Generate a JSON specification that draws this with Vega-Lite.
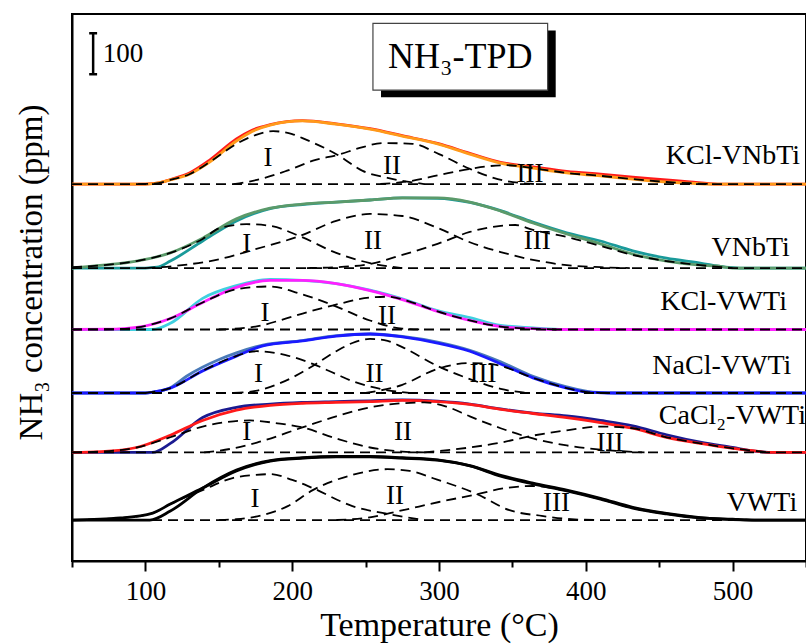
{
"$schema": "https://vega.github.io/schema/vega-lite/v6.json",
"width": 734, "height": 547,
"autosize": {"type": "none"},
"padding": {"left": 72, "top": 14, "right": 0, "bottom": 83},
"background": "white",
"config": {"font": "Liberation Serif", "view": {"stroke": "black", "strokeWidth": 2}},
"datasets": {
"exp": [
{"s":"KCl-VNbTi","t":50,"v":920},{"s":"KCl-VNbTi","t":100,"v":920},{"s":"KCl-VNbTi","t":108,"v":922},{"s":"KCl-VNbTi","t":117,"v":931},{"s":"KCl-VNbTi","t":130,"v":947},{"s":"KCl-VNbTi","t":144,"v":979},{"s":"KCl-VNbTi","t":162,"v":1030},{"s":"KCl-VNbTi","t":173,"v":1052},{"s":"KCl-VNbTi","t":185,"v":1065},{"s":"KCl-VNbTi","t":207,"v":1075},{"s":"KCl-VNbTi","t":230,"v":1067},{"s":"KCl-VNbTi","t":253,"v":1055},{"s":"KCl-VNbTi","t":275,"v":1038},{"s":"KCl-VNbTi","t":299,"v":1019},{"s":"KCl-VNbTi","t":321,"v":995},{"s":"KCl-VNbTi","t":342,"v":973},{"s":"KCl-VNbTi","t":364,"v":962},{"s":"KCl-VNbTi","t":387,"v":951},{"s":"KCl-VNbTi","t":410,"v":944},{"s":"KCl-VNbTi","t":432,"v":937},{"s":"KCl-VNbTi","t":455,"v":930},{"s":"KCl-VNbTi","t":471,"v":925},{"s":"KCl-VNbTi","t":490,"v":920},{"s":"KCl-VNbTi","t":550,"v":920},
{"s":"VNbTi","t":50,"v":715},{"s":"VNbTi","t":100,"v":715},{"s":"VNbTi","t":108,"v":717},{"s":"VNbTi","t":117,"v":732},{"s":"VNbTi","t":139,"v":781},{"s":"VNbTi","t":162,"v":830},{"s":"VNbTi","t":185,"v":860},{"s":"VNbTi","t":207,"v":870},{"s":"VNbTi","t":230,"v":876},{"s":"VNbTi","t":253,"v":881},{"s":"VNbTi","t":275,"v":886},{"s":"VNbTi","t":299,"v":885},{"s":"VNbTi","t":321,"v":875},{"s":"VNbTi","t":342,"v":855},{"s":"VNbTi","t":364,"v":827},{"s":"VNbTi","t":387,"v":801},{"s":"VNbTi","t":410,"v":781},{"s":"VNbTi","t":432,"v":757},{"s":"VNbTi","t":455,"v":739},{"s":"VNbTi","t":478,"v":727},{"s":"VNbTi","t":495,"v":717},{"s":"VNbTi","t":505,"v":715},{"s":"VNbTi","t":550,"v":715},
{"s":"KCl-VWTi","t":50,"v":565},{"s":"KCl-VWTi","t":105,"v":565},{"s":"KCl-VWTi","t":117,"v":580},{"s":"KCl-VWTi","t":139,"v":641},{"s":"KCl-VWTi","t":162,"v":672},{"s":"KCl-VWTi","t":185,"v":687},{"s":"KCl-VWTi","t":207,"v":685},{"s":"KCl-VWTi","t":230,"v":677},{"s":"KCl-VWTi","t":253,"v":661},{"s":"KCl-VWTi","t":275,"v":640},{"s":"KCl-VWTi","t":299,"v":611},{"s":"KCl-VWTi","t":321,"v":594},{"s":"KCl-VWTi","t":342,"v":575},{"s":"KCl-VWTi","t":364,"v":569},{"s":"KCl-VWTi","t":385,"v":565},{"s":"KCl-VWTi","t":550,"v":565},
{"s":"NaCl-VWTi","t":50,"v":410},{"s":"NaCl-VWTi","t":100,"v":410},{"s":"NaCl-VWTi","t":105,"v":412},{"s":"NaCl-VWTi","t":117,"v":423},{"s":"NaCl-VWTi","t":128,"v":451},{"s":"NaCl-VWTi","t":151,"v":493},{"s":"NaCl-VWTi","t":162,"v":508},{"s":"NaCl-VWTi","t":180,"v":527},{"s":"NaCl-VWTi","t":207,"v":538},{"s":"NaCl-VWTi","t":230,"v":550},{"s":"NaCl-VWTi","t":253,"v":554},{"s":"NaCl-VWTi","t":275,"v":548},{"s":"NaCl-VWTi","t":299,"v":534},{"s":"NaCl-VWTi","t":321,"v":514},{"s":"NaCl-VWTi","t":342,"v":486},{"s":"NaCl-VWTi","t":364,"v":451},{"s":"NaCl-VWTi","t":387,"v":425},{"s":"NaCl-VWTi","t":405,"v":412},{"s":"NaCl-VWTi","t":420,"v":410},{"s":"NaCl-VWTi","t":550,"v":410},
{"s":"CaCl2-VWTi","t":50,"v":265},{"s":"CaCl2-VWTi","t":105,"v":265},{"s":"CaCl2-VWTi","t":117,"v":287},{"s":"CaCl2-VWTi","t":139,"v":350},{"s":"CaCl2-VWTi","t":162,"v":375},{"s":"CaCl2-VWTi","t":185,"v":383},{"s":"CaCl2-VWTi","t":207,"v":387},{"s":"CaCl2-VWTi","t":230,"v":389},{"s":"CaCl2-VWTi","t":253,"v":391},{"s":"CaCl2-VWTi","t":275,"v":393},{"s":"CaCl2-VWTi","t":299,"v":390},{"s":"CaCl2-VWTi","t":321,"v":383},{"s":"CaCl2-VWTi","t":342,"v":371},{"s":"CaCl2-VWTi","t":364,"v":361},{"s":"CaCl2-VWTi","t":387,"v":354},{"s":"CaCl2-VWTi","t":410,"v":343},{"s":"CaCl2-VWTi","t":432,"v":330},{"s":"CaCl2-VWTi","t":455,"v":308},{"s":"CaCl2-VWTi","t":478,"v":290},{"s":"CaCl2-VWTi","t":500,"v":277},{"s":"CaCl2-VWTi","t":515,"v":268},{"s":"CaCl2-VWTi","t":528,"v":265},{"s":"CaCl2-VWTi","t":550,"v":265},
{"s":"VWTi","t":50,"v":100},{"s":"VWTi","t":103,"v":100},{"s":"VWTi","t":117,"v":122},{"s":"VWTi","t":139,"v":178},{"s":"VWTi","t":162,"v":222},{"s":"VWTi","t":185,"v":245},{"s":"VWTi","t":207,"v":252},{"s":"VWTi","t":230,"v":255},{"s":"VWTi","t":253,"v":255},{"s":"VWTi","t":275,"v":252},{"s":"VWTi","t":299,"v":247},{"s":"VWTi","t":321,"v":233},{"s":"VWTi","t":342,"v":209},{"s":"VWTi","t":364,"v":190},{"s":"VWTi","t":387,"v":173},{"s":"VWTi","t":410,"v":153},{"s":"VWTi","t":432,"v":131},{"s":"VWTi","t":455,"v":116},{"s":"VWTi","t":478,"v":106},{"s":"VWTi","t":500,"v":101},{"s":"VWTi","t":515,"v":100},{"s":"VWTi","t":550,"v":100}
],
"fit": [
{"s":"KCl-VNbTi","t":50,"v":920},{"s":"KCl-VNbTi","t":100,"v":920},{"s":"KCl-VNbTi","t":106,"v":921},{"s":"KCl-VNbTi","t":117,"v":930},{"s":"KCl-VNbTi","t":130,"v":944},{"s":"KCl-VNbTi","t":144,"v":974},{"s":"KCl-VNbTi","t":162,"v":1025},{"s":"KCl-VNbTi","t":173,"v":1049},{"s":"KCl-VNbTi","t":185,"v":1064},{"s":"KCl-VNbTi","t":207,"v":1074},{"s":"KCl-VNbTi","t":230,"v":1066},{"s":"KCl-VNbTi","t":253,"v":1054},{"s":"KCl-VNbTi","t":275,"v":1037},{"s":"KCl-VNbTi","t":299,"v":1018},{"s":"KCl-VNbTi","t":321,"v":993},{"s":"KCl-VNbTi","t":342,"v":971},{"s":"KCl-VNbTi","t":364,"v":959},{"s":"KCl-VNbTi","t":387,"v":947},{"s":"KCl-VNbTi","t":410,"v":940},{"s":"KCl-VNbTi","t":432,"v":932},{"s":"KCl-VNbTi","t":455,"v":925},{"s":"KCl-VNbTi","t":471,"v":922},{"s":"KCl-VNbTi","t":485,"v":920},{"s":"KCl-VNbTi","t":550,"v":920},
{"s":"VNbTi","t":50,"v":715},{"s":"VNbTi","t":71,"v":722},{"s":"VNbTi","t":94,"v":732},{"s":"VNbTi","t":117,"v":752},{"s":"VNbTi","t":139,"v":788},{"s":"VNbTi","t":162,"v":835},{"s":"VNbTi","t":185,"v":861},{"s":"VNbTi","t":207,"v":871},{"s":"VNbTi","t":230,"v":876},{"s":"VNbTi","t":253,"v":881},{"s":"VNbTi","t":275,"v":886},{"s":"VNbTi","t":299,"v":886},{"s":"VNbTi","t":321,"v":876},{"s":"VNbTi","t":342,"v":854},{"s":"VNbTi","t":364,"v":825},{"s":"VNbTi","t":387,"v":798},{"s":"VNbTi","t":410,"v":774},{"s":"VNbTi","t":432,"v":749},{"s":"VNbTi","t":455,"v":732},{"s":"VNbTi","t":478,"v":722},{"s":"VNbTi","t":489,"v":720},{"s":"VNbTi","t":500,"v":715},{"s":"VNbTi","t":550,"v":715},
{"s":"KCl-VWTi","t":50,"v":565},{"s":"KCl-VWTi","t":80,"v":566},{"s":"KCl-VWTi","t":94,"v":570},{"s":"KCl-VWTi","t":117,"v":592},{"s":"KCl-VWTi","t":139,"v":631},{"s":"KCl-VWTi","t":162,"v":668},{"s":"KCl-VWTi","t":185,"v":685},{"s":"KCl-VWTi","t":207,"v":685},{"s":"KCl-VWTi","t":230,"v":677},{"s":"KCl-VWTi","t":253,"v":660},{"s":"KCl-VWTi","t":275,"v":638},{"s":"KCl-VWTi","t":299,"v":609},{"s":"KCl-VWTi","t":321,"v":587},{"s":"KCl-VWTi","t":342,"v":572},{"s":"KCl-VWTi","t":364,"v":567},{"s":"KCl-VWTi","t":380,"v":565},{"s":"KCl-VWTi","t":550,"v":565},
{"s":"NaCl-VWTi","t":50,"v":410},{"s":"NaCl-VWTi","t":100,"v":410},{"s":"NaCl-VWTi","t":105,"v":412},{"s":"NaCl-VWTi","t":117,"v":422},{"s":"NaCl-VWTi","t":139,"v":464},{"s":"NaCl-VWTi","t":162,"v":500},{"s":"NaCl-VWTi","t":180,"v":525},{"s":"NaCl-VWTi","t":207,"v":537},{"s":"NaCl-VWTi","t":230,"v":549},{"s":"NaCl-VWTi","t":253,"v":554},{"s":"NaCl-VWTi","t":275,"v":547},{"s":"NaCl-VWTi","t":299,"v":532},{"s":"NaCl-VWTi","t":321,"v":512},{"s":"NaCl-VWTi","t":342,"v":481},{"s":"NaCl-VWTi","t":364,"v":447},{"s":"NaCl-VWTi","t":387,"v":422},{"s":"NaCl-VWTi","t":401,"v":412},{"s":"NaCl-VWTi","t":415,"v":410},{"s":"NaCl-VWTi","t":550,"v":410},
{"s":"CaCl2-VWTi","t":50,"v":265},{"s":"CaCl2-VWTi","t":70,"v":267},{"s":"CaCl2-VWTi","t":94,"v":277},{"s":"CaCl2-VWTi","t":117,"v":307},{"s":"CaCl2-VWTi","t":139,"v":343},{"s":"CaCl2-VWTi","t":162,"v":368},{"s":"CaCl2-VWTi","t":185,"v":380},{"s":"CaCl2-VWTi","t":207,"v":385},{"s":"CaCl2-VWTi","t":230,"v":387},{"s":"CaCl2-VWTi","t":253,"v":389},{"s":"CaCl2-VWTi","t":275,"v":392},{"s":"CaCl2-VWTi","t":299,"v":389},{"s":"CaCl2-VWTi","t":321,"v":382},{"s":"CaCl2-VWTi","t":342,"v":370},{"s":"CaCl2-VWTi","t":364,"v":360},{"s":"CaCl2-VWTi","t":387,"v":350},{"s":"CaCl2-VWTi","t":410,"v":338},{"s":"CaCl2-VWTi","t":432,"v":324},{"s":"CaCl2-VWTi","t":455,"v":302},{"s":"CaCl2-VWTi","t":478,"v":287},{"s":"CaCl2-VWTi","t":500,"v":275},{"s":"CaCl2-VWTi","t":512,"v":270},{"s":"CaCl2-VWTi","t":525,"v":265},{"s":"CaCl2-VWTi","t":550,"v":265},
{"s":"VWTi","t":50,"v":100},{"s":"VWTi","t":83,"v":105},{"s":"VWTi","t":105,"v":117},{"s":"VWTi","t":117,"v":139},{"s":"VWTi","t":139,"v":178},{"s":"VWTi","t":162,"v":220},{"s":"VWTi","t":185,"v":244},{"s":"VWTi","t":207,"v":251},{"s":"VWTi","t":230,"v":254},{"s":"VWTi","t":253,"v":254},{"s":"VWTi","t":275,"v":251},{"s":"VWTi","t":299,"v":246},{"s":"VWTi","t":321,"v":232},{"s":"VWTi","t":342,"v":207},{"s":"VWTi","t":364,"v":188},{"s":"VWTi","t":387,"v":171},{"s":"VWTi","t":410,"v":151},{"s":"VWTi","t":432,"v":129},{"s":"VWTi","t":455,"v":115},{"s":"VWTi","t":478,"v":105},{"s":"VWTi","t":500,"v":102},{"s":"VWTi","t":515,"v":100},{"s":"VWTi","t":550,"v":100}
],
"comps": [
{"c":"A0","t":50,"v":920},{"c":"A0","t":550,"v":920},
{"c":"A1","t":95,"v":920},{"c":"A1","t":106,"v":921},{"c":"A1","t":117,"v":930},{"c":"A1","t":130,"v":944},{"c":"A1","t":144,"v":974},{"c":"A1","t":162,"v":1018},{"c":"A1","t":173,"v":1037},{"c":"A1","t":187,"v":1049},{"c":"A1","t":200,"v":1042},{"c":"A1","t":207,"v":1032},{"c":"A1","t":231,"v":991},{"c":"A1","t":248,"v":952},{"c":"A1","t":265,"v":935},{"c":"A1","t":290,"v":920},
{"c":"A2","t":160,"v":920},{"c":"A2","t":176,"v":930},{"c":"A2","t":196,"v":952},{"c":"A2","t":216,"v":979},{"c":"A2","t":231,"v":991},{"c":"A2","t":246,"v":1008},{"c":"A2","t":262,"v":1020},{"c":"A2","t":282,"v":1018},{"c":"A2","t":300,"v":993},{"c":"A2","t":321,"v":957},{"c":"A2","t":340,"v":932},{"c":"A2","t":365,"v":920},
{"c":"A3","t":260,"v":920},{"c":"A3","t":280,"v":927},{"c":"A3","t":300,"v":942},{"c":"A3","t":321,"v":957},{"c":"A3","t":345,"v":966},{"c":"A3","t":364,"v":959},{"c":"A3","t":387,"v":947},{"c":"A3","t":410,"v":940},{"c":"A3","t":432,"v":932},{"c":"A3","t":455,"v":925},{"c":"A3","t":471,"v":922},{"c":"A3","t":485,"v":920},
{"c":"B0","t":50,"v":715},{"c":"B0","t":550,"v":715},
{"c":"B1","t":50,"v":717},{"c":"B1","t":71,"v":722},{"c":"B1","t":94,"v":732},{"c":"B1","t":117,"v":752},{"c":"B1","t":139,"v":786},{"c":"B1","t":151,"v":813},{"c":"B1","t":169,"v":822},{"c":"B1","t":185,"v":818},{"c":"B1","t":205,"v":793},{"c":"B1","t":230,"v":752},{"c":"B1","t":253,"v":727},{"c":"B1","t":275,"v":715},
{"c":"B2","t":100,"v":715},{"c":"B2","t":125,"v":722},{"c":"B2","t":151,"v":737},{"c":"B2","t":175,"v":761},{"c":"B2","t":205,"v":793},{"c":"B2","t":230,"v":830},{"c":"B2","t":253,"v":847},{"c":"B2","t":275,"v":842},{"c":"B2","t":299,"v":813},{"c":"B2","t":321,"v":778},{"c":"B2","t":342,"v":754},{"c":"B2","t":364,"v":735},{"c":"B2","t":387,"v":722},{"c":"B2","t":410,"v":717},{"c":"B2","t":430,"v":715},
{"c":"B3","t":210,"v":715},{"c":"B3","t":230,"v":717},{"c":"B3","t":253,"v":725},{"c":"B3","t":275,"v":747},{"c":"B3","t":299,"v":774},{"c":"B3","t":321,"v":803},{"c":"B3","t":342,"v":818},{"c":"B3","t":352,"v":820},{"c":"B3","t":364,"v":808},{"c":"B3","t":387,"v":791},{"c":"B3","t":410,"v":769},{"c":"B3","t":432,"v":747},{"c":"B3","t":455,"v":732},{"c":"B3","t":478,"v":722},{"c":"B3","t":500,"v":715},
{"c":"C0","t":50,"v":565},{"c":"C0","t":550,"v":565},
{"c":"C1","t":50,"v":565},{"c":"C1","t":80,"v":566},{"c":"C1","t":94,"v":570},{"c":"C1","t":117,"v":592},{"c":"C1","t":139,"v":631},{"c":"C1","t":162,"v":663},{"c":"C1","t":185,"v":670},{"c":"C1","t":205,"v":653},{"c":"C1","t":228,"v":624},{"c":"C1","t":253,"v":587},{"c":"C1","t":275,"v":567},{"c":"C1","t":290,"v":565},
{"c":"C2","t":150,"v":565},{"c":"C2","t":175,"v":572},{"c":"C2","t":196,"v":592},{"c":"C2","t":210,"v":607},{"c":"C2","t":228,"v":624},{"c":"C2","t":253,"v":643},{"c":"C2","t":265,"v":645},{"c":"C2","t":280,"v":633},{"c":"C2","t":299,"v":609},{"c":"C2","t":321,"v":587},{"c":"C2","t":342,"v":572},{"c":"C2","t":364,"v":567},{"c":"C2","t":380,"v":565},
{"c":"D0","t":50,"v":410},{"c":"D0","t":550,"v":410},
{"c":"D1","t":100,"v":410},{"c":"D1","t":117,"v":422},{"c":"D1","t":139,"v":464},{"c":"D1","t":160,"v":498},{"c":"D1","t":176,"v":512},{"c":"D1","t":195,"v":503},{"c":"D1","t":214,"v":481},{"c":"D1","t":230,"v":456},{"c":"D1","t":241,"v":439},{"c":"D1","t":260,"v":420},{"c":"D1","t":280,"v":410},
{"c":"D2","t":160,"v":410},{"c":"D2","t":175,"v":415},{"c":"D2","t":195,"v":439},{"c":"D2","t":214,"v":476},{"c":"D2","t":230,"v":512},{"c":"D2","t":241,"v":532},{"c":"D2","t":253,"v":542},{"c":"D2","t":265,"v":537},{"c":"D2","t":275,"v":522},{"c":"D2","t":299,"v":476},{"c":"D2","t":321,"v":444},{"c":"D2","t":342,"v":420},{"c":"D2","t":360,"v":410},
{"c":"D3","t":250,"v":410},{"c":"D3","t":275,"v":430},{"c":"D3","t":299,"v":469},{"c":"D3","t":321,"v":483},{"c":"D3","t":335,"v":481},{"c":"D3","t":342,"v":476},{"c":"D3","t":364,"v":447},{"c":"D3","t":387,"v":422},{"c":"D3","t":401,"v":412},{"c":"D3","t":415,"v":410},
{"c":"E0","t":50,"v":265},{"c":"E0","t":550,"v":265},
{"c":"E1","t":50,"v":265},{"c":"E1","t":70,"v":267},{"c":"E1","t":94,"v":277},{"c":"E1","t":117,"v":302},{"c":"E1","t":139,"v":328},{"c":"E1","t":160,"v":341},{"c":"E1","t":171,"v":343},{"c":"E1","t":190,"v":336},{"c":"E1","t":207,"v":326},{"c":"E1","t":230,"v":299},{"c":"E1","t":253,"v":277},{"c":"E1","t":275,"v":267},{"c":"E1","t":290,"v":265},
{"c":"E2","t":140,"v":265},{"c":"E2","t":160,"v":275},{"c":"E2","t":176,"v":289},{"c":"E2","t":207,"v":326},{"c":"E2","t":230,"v":353},{"c":"E2","t":253,"v":375},{"c":"E2","t":275,"v":385},{"c":"E2","t":290,"v":387},{"c":"E2","t":305,"v":377},{"c":"E2","t":321,"v":353},{"c":"E2","t":342,"v":324},{"c":"E2","t":364,"v":299},{"c":"E2","t":387,"v":282},{"c":"E2","t":410,"v":272},{"c":"E2","t":440,"v":265},
{"c":"E3","t":290,"v":265},{"c":"E3","t":321,"v":277},{"c":"E3","t":342,"v":289},{"c":"E3","t":364,"v":306},{"c":"E3","t":387,"v":319},{"c":"E3","t":410,"v":328},{"c":"E3","t":432,"v":324},{"c":"E3","t":455,"v":302},{"c":"E3","t":478,"v":287},{"c":"E3","t":500,"v":275},{"c":"E3","t":512,"v":270},{"c":"E3","t":525,"v":265},
{"c":"F0","t":50,"v":100},{"c":"F0","t":550,"v":100},
{"c":"F1","t":50,"v":100},{"c":"F1","t":83,"v":105},{"c":"F1","t":105,"v":117},{"c":"F1","t":117,"v":139},{"c":"F1","t":139,"v":173},{"c":"F1","t":160,"v":203},{"c":"F1","t":175,"v":210},{"c":"F1","t":185,"v":212},{"c":"F1","t":200,"v":198},{"c":"F1","t":214,"v":178},{"c":"F1","t":241,"v":134},{"c":"F1","t":265,"v":115},{"c":"F1","t":290,"v":100},
{"c":"F2","t":150,"v":100},{"c":"F2","t":162,"v":102},{"c":"F2","t":180,"v":112},{"c":"F2","t":197,"v":134},{"c":"F2","t":214,"v":173},{"c":"F2","t":241,"v":210},{"c":"F2","t":265,"v":224},{"c":"F2","t":280,"v":220},{"c":"F2","t":296,"v":202},{"c":"F2","t":326,"v":163},{"c":"F2","t":348,"v":124},{"c":"F2","t":370,"v":110},{"c":"F2","t":390,"v":102},{"c":"F2","t":410,"v":100},
{"c":"F3","t":230,"v":100},{"c":"F3","t":250,"v":105},{"c":"F3","t":273,"v":122},{"c":"F3","t":300,"v":144},{"c":"F3","t":326,"v":163},{"c":"F3","t":345,"v":178},{"c":"F3","t":364,"v":183},{"c":"F3","t":387,"v":171},{"c":"F3","t":410,"v":151},{"c":"F3","t":432,"v":129},{"c":"F3","t":455,"v":115},{"c":"F3","t":478,"v":105},{"c":"F3","t":500,"v":102},{"c":"F3","t":515,"v":100}
],
"roman": [
{"lab":"I","t":183.5,"v":983},{"lab":"II","t":268,"v":964},{"lab":"III","t":362,"v":945},
{"lab":"I","t":169,"v":774},{"lab":"II","t":255,"v":781},{"lab":"III","t":367,"v":781},
{"lab":"I","t":181.5,"v":606},{"lab":"II","t":264.6,"v":599},
{"lab":"I","t":177,"v":456},{"lab":"II","t":256,"v":456},{"lab":"III","t":330,"v":456},
{"lab":"I","t":169,"v":314},{"lab":"II","t":275.5,"v":314},{"lab":"III","t":416.5,"v":289},
{"lab":"I","t":174.7,"v":151},{"lab":"II","t":270,"v":159},{"lab":"III","t":380,"v":141}
],
"names": [
{"lab":"KCl-VNbTi","t":546,"v":988},
{"lab":"VNbTi","t":539,"v":764},
{"lab":"KCl-VWTi","t":537,"v":631},
{"lab":"NaCl-VWTi","t":540,"v":476},
{"lab":"CaCl₂-VWTi","t":550,"v":355},
{"lab":"VWTi","t":544,"v":141}
],
"bar": [
{"t":64.4,"t2":64.4,"v":1188,"v2":1288},
{"t":61.7,"t2":67.1,"v":1188,"v2":1188},
{"t":61.7,"t2":67.1,"v":1288,"v2":1288}
],
"shadow": [{"t":260.5,"t2":379.5,"v":1132,"v2":1295}],
"box": [{"t":255,"t2":374,"v":1149,"v2":1312}],
"boxtext": [{"lab":"NH₃-TPD","t":314.5,"v":1230}],
"scaletext": [{"lab":"100","t":71,"v":1238}]
},
"encoding": {
"x": {"field": "t", "type": "quantitative",
 "scale": {"domain": [50, 550], "nice": false, "zero": false},
 "axis": {"title": "Temperature (°C)", "values": [50,100,150,200,250,300,350,400,450,500,550],
  "labelExpr": "datum.value % 100 === 0 ? datum.label : ''",
  "tickSize": {"condition": {"test": "datum.value % 100 === 0", "value": 10}, "value": 6},
  "tickWidth": 2, "tickColor": "black", "domainColor": "black", "domainWidth": 2, "grid": false,
  "labelFontSize": 27, "labelColor": "black", "labelPadding": 7, "labelFont": "Liberation Serif",
  "titleFontSize": 34, "titleFontWeight": "normal", "titleColor": "black", "titlePadding": 4, "titleFont": "Liberation Serif",
  "labelFlush": false, "labelOverlap": false}},
"y": {"field": "v", "type": "quantitative",
 "scale": {"domain": [0, 1335], "nice": false, "zero": false},
 "axis": {"title": "NH₃ concentration (ppm)", "labels": false, "ticks": false, "grid": false,
  "domainColor": "black", "domainWidth": 2, "titleFontSize": 33, "titleFontWeight": "normal",
  "titleColor": "black", "titlePadding": 24, "titleY": 258, "titleFont": "Liberation Serif"}}
},
"layer": [
{"data": {"name": "exp"}, "mark": {"type": "line", "strokeWidth": 2.8, "interpolate": "monotone"},
 "encoding": {"color": {"field": "s", "type": "nominal", "legend": null,
  "scale": {"domain": ["KCl-VNbTi","VNbTi","KCl-VWTi","NaCl-VWTi","CaCl2-VWTi","VWTi"],
   "range": ["#ff1a1a","#1a9a9a","#40d0e0","#4a7ab8","#1a1a90","#000000"]}}}},
{"data": {"name": "fit"}, "mark": {"type": "line", "strokeWidth": 2.8, "interpolate": "monotone"},
 "encoding": {"color": {"field": "s", "type": "nominal", "legend": null,
  "scale": {"domain": ["KCl-VNbTi","VNbTi","KCl-VWTi","NaCl-VWTi","CaCl2-VWTi","VWTi"],
   "range": ["#ff9a1a","#5b9a6a","#ff20ff","#1a1aff","#ff1a1a","#000000"]}}}},
{"data": {"name": "comps"}, "mark": {"type": "line", "strokeWidth": 1.8, "strokeDash": [10, 6], "color": "black", "interpolate": "monotone"},
 "encoding": {"detail": {"field": "c", "type": "nominal"}}},
{"data": {"name": "roman"}, "mark": {"type": "text", "fontSize": 27, "font": "Liberation Serif", "color": "black", "baseline": "middle"},
 "encoding": {"text": {"field": "lab"}}},
{"data": {"name": "names"}, "mark": {"type": "text", "fontSize": 28, "font": "Liberation Serif", "color": "black", "align": "right", "baseline": "middle"},
 "encoding": {"text": {"field": "lab"}}},
{"data": {"name": "bar"}, "mark": {"type": "rule", "strokeWidth": 2.5, "color": "black"},
 "encoding": {"x2": {"field": "t2"}, "y2": {"field": "v2"}}},
{"data": {"name": "scaletext"}, "mark": {"type": "text", "fontSize": 27, "font": "Liberation Serif", "color": "black", "align": "left", "baseline": "middle"},
 "encoding": {"text": {"field": "lab"}}},
{"data": {"name": "shadow"}, "mark": {"type": "rect", "color": "black"},
 "encoding": {"x2": {"field": "t2"}, "y2": {"field": "v2"}}},
{"data": {"name": "box"}, "mark": {"type": "rect", "fill": "white", "stroke": "#444444", "strokeWidth": 1.2},
 "encoding": {"x2": {"field": "t2"}, "y2": {"field": "v2"}}},
{"data": {"name": "boxtext"}, "mark": {"type": "text", "fontSize": 36, "font": "Liberation Serif", "color": "black", "baseline": "middle"},
 "encoding": {"text": {"field": "lab"}}}
],
"resolve": {"scale": {"color": "independent"}}
}
